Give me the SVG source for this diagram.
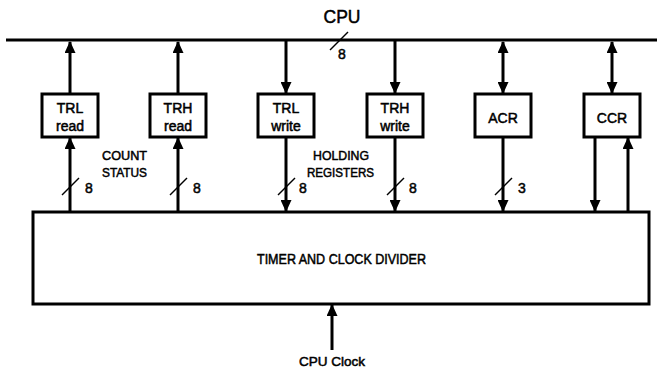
<svg xmlns="http://www.w3.org/2000/svg" width="657" height="374" viewBox="0 0 657 374">
<style>
.t{font-family:"Liberation Sans",Arial,sans-serif;fill:#000;stroke:#000;stroke-width:0.5}
.box{fill:#fff;stroke:#000;stroke-width:3}
.ln{stroke:#000;stroke-width:3;fill:none}
.sl{stroke:#000;stroke-width:1.4;fill:none}
</style>
<defs>
<marker id="ah" viewBox="0 0 12 11" refX="11" refY="5.5" markerWidth="12" markerHeight="11" markerUnits="userSpaceOnUse" orient="auto-start-reverse">
<path d="M0,0 L12,5.5 L0,11 Z" fill="#000"/>
</marker>
</defs>
<rect width="657" height="374" fill="#fff"/>
<g id="bus">
<line class="ln" x1="6" y1="40" x2="657" y2="40"/>
<text class="t" x="342" y="23" font-size="19" text-anchor="middle" textLength="37" lengthAdjust="spacingAndGlyphs">CPU</text>
<line class="sl" x1="330" y1="50" x2="348" y2="32"/>
<text class="t" x="342" y="59" font-size="14" text-anchor="middle">8</text>
</g>
<g id="connectors">
<line class="ln" x1="70" y1="94" x2="70" y2="42" marker-end="url(#ah)"/>
<line class="ln" x1="178" y1="94" x2="178" y2="42" marker-end="url(#ah)"/>
<line class="ln" x1="286" y1="41" x2="286" y2="93" marker-end="url(#ah)"/>
<line class="ln" x1="395" y1="41" x2="395" y2="93" marker-end="url(#ah)"/>
<line class="ln" x1="503" y1="42" x2="503" y2="93" marker-start="url(#ah)" marker-end="url(#ah)"/>
<line class="ln" x1="612" y1="42" x2="612" y2="93" marker-start="url(#ah)" marker-end="url(#ah)"/>
<line class="ln" x1="70" y1="212" x2="70" y2="138" marker-end="url(#ah)"/>
<line class="ln" x1="178" y1="212" x2="178" y2="138" marker-end="url(#ah)"/>
<line class="ln" x1="286" y1="137" x2="286" y2="211" marker-end="url(#ah)"/>
<line class="ln" x1="395" y1="137" x2="395" y2="211" marker-end="url(#ah)"/>
<line class="ln" x1="503" y1="137" x2="503" y2="211" marker-end="url(#ah)"/>
<line class="ln" x1="595" y1="137" x2="595" y2="211" marker-end="url(#ah)"/>
<line class="ln" x1="628" y1="212" x2="628" y2="138" marker-end="url(#ah)"/>
<line class="ln" x1="332" y1="350" x2="332" y2="305" marker-end="url(#ah)"/>
<line class="sl" x1="62" y1="195" x2="79" y2="178"/>
<line class="sl" x1="170" y1="195" x2="187" y2="178"/>
<line class="sl" x1="278" y1="195" x2="295" y2="178"/>
<line class="sl" x1="387" y1="195" x2="404" y2="178"/>
<line class="sl" x1="495" y1="195" x2="512" y2="178"/>
<text class="t" x="89" y="193" font-size="14" text-anchor="middle">8</text>
<text class="t" x="197" y="193" font-size="14" text-anchor="middle">8</text>
<text class="t" x="303" y="193" font-size="14" text-anchor="middle">8</text>
<text class="t" x="413" y="193" font-size="14" text-anchor="middle">8</text>
<text class="t" x="522" y="193" font-size="14" text-anchor="middle">3</text>
</g>
<g id="trl-read">
<rect class="box" x="42" y="94" width="56" height="43"/>
<text class="t" x="70" y="113" font-size="14" text-anchor="middle">TRL</text>
<text class="t" x="70" y="131" font-size="14" text-anchor="middle">read</text>
</g>
<g id="trh-read">
<rect class="box" x="150" y="94" width="56" height="43"/>
<text class="t" x="178" y="113" font-size="14" text-anchor="middle">TRH</text>
<text class="t" x="178" y="131" font-size="14" text-anchor="middle">read</text>
</g>
<g id="trl-write">
<rect class="box" x="258" y="94" width="56" height="43"/>
<text class="t" x="286" y="113" font-size="14" text-anchor="middle">TRL</text>
<text class="t" x="286" y="131" font-size="14" text-anchor="middle">write</text>
</g>
<g id="trh-write">
<rect class="box" x="367" y="94" width="56" height="43"/>
<text class="t" x="395" y="113" font-size="14" text-anchor="middle">TRH</text>
<text class="t" x="395" y="131" font-size="14" text-anchor="middle">write</text>
</g>
<g id="acr">
<rect class="box" x="475" y="94" width="56" height="43"/>
<text class="t" x="503" y="123" font-size="14" text-anchor="middle">ACR</text>
</g>
<g id="ccr">
<rect class="box" x="584" y="94" width="56" height="43"/>
<text class="t" x="612" y="123" font-size="14" text-anchor="middle">CCR</text>
</g>
<g id="labels">
<text class="t" x="102" y="160" font-size="13" textLength="45" lengthAdjust="spacingAndGlyphs">COUNT</text>
<text class="t" x="102" y="177" font-size="13" textLength="45" lengthAdjust="spacingAndGlyphs">STATUS</text>
<text class="t" x="313" y="160" font-size="13" textLength="56" lengthAdjust="spacingAndGlyphs">HOLDING</text>
<text class="t" x="307" y="177" font-size="13" textLength="67" lengthAdjust="spacingAndGlyphs">REGISTERS</text>
</g>
<g id="timer">
<rect class="box" x="33" y="212" width="616" height="92"/>
<text class="t" x="257" y="264" font-size="14" textLength="169" lengthAdjust="spacingAndGlyphs">TIMER AND CLOCK DIVIDER</text>
</g>
<g id="cpu-clock">
<text class="t" x="299" y="366" font-size="13" textLength="66" lengthAdjust="spacingAndGlyphs">CPU Clock</text>
</g>
</svg>
